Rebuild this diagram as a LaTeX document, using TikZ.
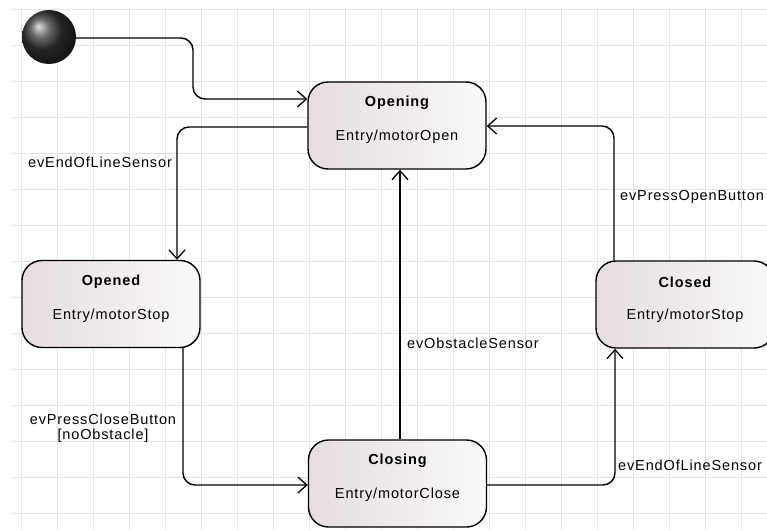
\documentclass[tikz,border=0pt]{standalone}
\usepackage{fontspec}
\setmainfont{Liberation Sans}[LetterSpace=6]
\usetikzlibrary{arrows.meta,shadings}
\definecolor{gridc}{RGB}{228,228,228}
\definecolor{boxl}{RGB}{230,221,221}
\definecolor{boxr}{RGB}{250,249,249}
\tikzset{
  statebox/.style={draw=black, line width=1.4pt, rounded corners=20pt,
    minimum width=178pt, minimum height=87pt, inner sep=0pt,
    left color=boxl, right color=boxr},
  ttl/.style={font=\fontsize{14.5}{16}\selectfont\bfseries, inner sep=0pt},
  ent/.style={font=\fontsize{14.5}{16}\selectfont, inner sep=0pt},
  lbl/.style={font=\fontsize{14.5}{17}\selectfont, inner sep=0pt},
  conn/.style={line width=1.4pt, rounded corners=12pt,
    -{Straight Barb[length=9pt,width=16pt,line width=1.3pt]}},
}
\begin{document}
\begin{tikzpicture}[x=1pt,y=-1pt]
\useasboundingbox (0,0) rectangle (767,530);
\clip (0,0) rectangle (767,530);
\fill[white] (0,0) rectangle (767,530);
% grid
\foreach \gx in {0,...,20} \draw[gridc, line width=1pt] (21.7+36*\gx,8) -- (21.7+36*\gx,530);
\foreach \gy in {0,...,14} \draw[gridc, line width=1pt] (10,9+36*\gy) -- (767,9+36*\gy);
% initial
\shade[ball color=black!80] (49,37) circle (27);
\node[circle, minimum size=54pt, inner sep=0pt] (init) at (49,37) {};
% states
\node[statebox] (Opening) at (397,125.5) {};
\node[ttl] (OpeningT) at ([yshift=22.5pt]Opening.center) {Opening};
\node[ent] (OpeningE) at ([yshift=-11.5pt]Opening.center) {Entry/motorOpen};

\node[statebox] (Opened) at (111,304) {};
\node[ttl] (OpenedT) at ([yshift=22.5pt]Opened.center) {Opened};
\node[ent] (OpenedE) at ([yshift=-11.5pt]Opened.center) {Entry/motorStop};

\node[statebox] (Closed) at (685,304.5) {};
\node[ttl] (ClosedT) at ([yshift=22.5pt]Closed.center) {Closed};
\node[ent] (ClosedE) at ([yshift=-11.5pt]Closed.center) {Entry/motorStop};

\node[statebox] (Closing) at (397.5,483.5) {};
\node[ttl] (ClosingT) at ([yshift=22.5pt]Closing.center) {Closing};
\node[ent] (ClosingE) at ([yshift=-11.5pt]Closing.center) {Entry/motorClose};

% connectors
\draw[conn] (init.east |- 0,38) -- (193,38) -- (193,99) -- (Opening.west |- 0,99);
\draw[conn] (Opening.west |- 0,127) -- (177,127) -- (Opened.north -| 177,0);
\draw[conn] (Opened.south -| 183,0) -- (183,485) -- (Closing.west |- 0,485);
\draw[conn] (Closing.north -| 400,0) -- (Opening.south -| 400,0);
\draw[conn] (Closing.east |- 0,485) -- (615,485) -- (Closed.south -| 615,0);
\draw[conn] (Closed.north -| 614,0) -- (614,126) -- (Opening.east |- 0,126);

% labels
\node[lbl, anchor=west] (l1) at (28,162) {evEndOfLineSensor};
\node[lbl, align=center] (l2) at (103,428) {evPressCloseButton\\[-2pt]{}[noObstacle]};
\node[lbl, anchor=west] (l3) at (407,343) {evObstacleSensor};
\node[lbl, anchor=west] (l4) at (618,465) {evEndOfLineSensor};
\node[lbl, anchor=west] (l5) at (620,197) {evPressOpenButton};
\end{tikzpicture}
\end{document}
